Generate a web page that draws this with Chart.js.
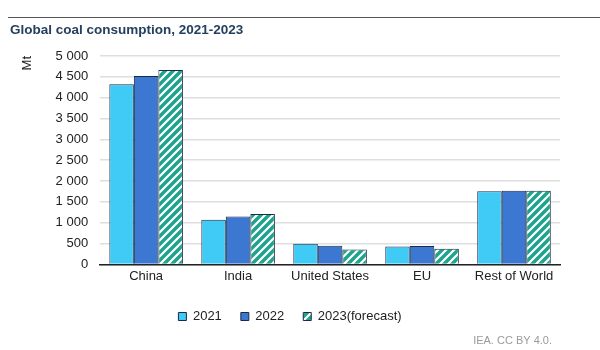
<!DOCTYPE html>
<html><head><meta charset="utf-8">
<script src="https://cdn.jsdelivr.net/npm/chart.js@4/dist/chart.umd.min.js"></script>
<style>html,body{margin:0;padding:0;background:#fff}#wrap{width:600px;height:350px;position:relative}</style>
</head><body><div id="wrap"><canvas id="c" width="600" height="350"></canvas></div>
<script>
const categories = ["China", "India", "United States", "EU", "Rest of World"];
const seriesNames = ["2021", "2022", "2023(forecast)"];
const values2021 = [4320, 1070, 495, 430, 1755];
const values2022 = [4520, 1150, 445, 440, 1770];
const values2023 = [4665, 1210, 360, 375, 1765];
const yTicks = [0, 500, 1000, 1500, 2000, 2500, 3000, 3500, 4000, 4500, 5000];

function hatch(){
  const p = document.createElement('canvas');
  p.width = 8; p.height = 8;
  const g = p.getContext('2d');
  g.fillStyle = '#1fa38c'; g.fillRect(0,0,8,8);
  g.strokeStyle = '#ffffff'; g.lineWidth = 2.2;
  g.beginPath();
  g.moveTo(-2,2); g.lineTo(2,-2);
  g.moveTo(0,8); g.lineTo(8,0);
  g.moveTo(6,10); g.lineTo(10,6);
  g.stroke();
  return g.createPattern(p,'repeat');
}

const decor = {
  id:'decor',
  beforeDraw(chart){
    const c = chart.ctx;
    c.save();
    c.strokeStyle = '#555'; c.lineWidth = 1;
    c.beginPath(); c.moveTo(8,17.5); c.lineTo(600,17.5); c.stroke();
    c.fillStyle = '#24405e';
    c.font = 'bold 13.5px "Liberation Sans", Arial, sans-serif';
    c.textBaseline = 'middle'; c.textAlign = 'left';
    c.fillText('Global coal consumption, 2021-2023', 10, 30);
    c.fillStyle = '#9a9a9a';
    c.font = '11px "Liberation Sans", Arial, sans-serif';
    c.textAlign = 'right';
    c.fillText('IEA. CC BY 4.0.', 552, 341);
    c.restore();
  }
};

const fmt = v => String(v).replace(/\B(?=(\d{3})+(?!\d))/g, ' ');
const border = '#1b2a48';
new Chart(document.getElementById('c'), {
  type:'bar',
  data:{
    labels: categories,
    datasets:[
      {label: seriesNames[0], data: values2021, backgroundColor:'#3fcbf5', borderColor:border, borderWidth:1},
      {label: seriesNames[1], data: values2022, backgroundColor:'#3c77d2', borderColor:border, borderWidth:1},
      {label: seriesNames[2], data: values2023, backgroundColor:hatch(), borderColor:border, borderWidth:1}
    ]
  },
  options:{
    responsive:false, animation:false,
    layout:{padding:{left:20, right:40, top:56, bottom:17}},
    datasets:{bar:{categoryPercentage:0.8, barPercentage:1.0}},
    scales:{
      x:{
        grid:{display:false},
        border:{color:'#222', width:1.5},
        afterFit(scale){ scale.height += 11; },
        ticks:{color:'#222', font:{size:13, family:'"Liberation Sans", Arial, sans-serif'}, padding:-4, maxRotation:0}
      },
      y:{
        min:0, max:5000,
        afterBuildTicks(axis){ axis.ticks = yTicks.map(v=>({value:v})); },
        grid:{color:'#dedede', lineWidth:1.5, drawTicks:false},
        border:{display:false},
        ticks:{color:'#222', font:{size:13, family:'"Liberation Sans", Arial, sans-serif'}, padding:12, callback:v=>fmt(v)},
        title:{display:true, text:'Mt', align:'end', color:'#222', font:{size:13, family:'"Liberation Sans", Arial, sans-serif'}, padding:{top:0,bottom:8}}
      }
    },
    plugins:{
      legend:{position:'bottom', labels:{boxWidth:8, boxHeight:8, color:'#222', padding:19, font:{size:13, family:'"Liberation Sans", Arial, sans-serif'}}},
      tooltip:{enabled:false}
    }
  },
  plugins:[decor]
});
</script></body></html>
